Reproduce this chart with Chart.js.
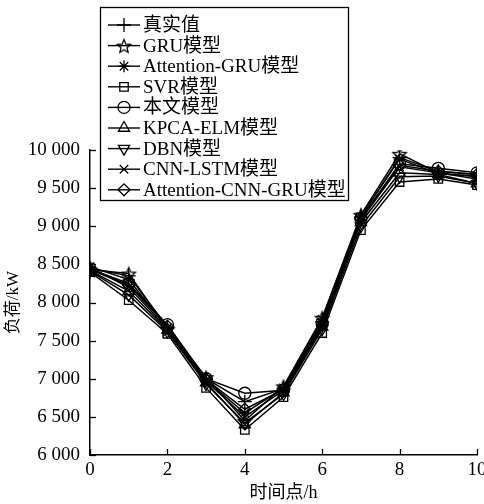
<!DOCTYPE html>
<html><head><meta charset="utf-8">
<script src="https://cdn.jsdelivr.net/npm/chart.js@4/dist/chart.umd.min.js"></script>
<style>html,body{margin:0;padding:0;background:#fff;overflow:hidden}#wrap{width:484px;height:504px;overflow:hidden;position:relative}canvas{display:block}</style>
</head><body><div id="wrap"><canvas id="c" width="500" height="504"></canvas></div>
<script>
const hours = [0,1,2,3,4,5,6,7,8,9,10];
const seriesNames = ['真实值','GRU模型','Attention-GRU模型','SVR模型','本文模型','KPCA-ELM模型','DBN模型','CNN-LSTM模型','Attention-CNN-GRU模型'];
const realValues     = [8450,8350,7680,7000,6700,6870,7750,9120,9900,9720,9680];
const gruValues      = [8430,8380,7650,7020,6450,6900,7800,9150,9950,9700,9650];
const attGruValues   = [8470,8300,7670,6980,6550,6880,7780,9130,9880,9690,9660];
const svrValues      = [8400,8030,7590,6880,6330,6760,7600,8950,9580,9620,9540];
const oursValues     = [8440,8250,7710,7000,6810,6850,7730,9100,9820,9760,9700];
const kpcaElmValues  = [8420,8150,7640,6950,6400,6820,7680,9050,9700,9680,9560];
const dbnValues      = [8410,8100,7620,6930,6420,6800,7650,9000,9650,9660,9560];
const cnnLstmValues  = [8460,8200,7660,6970,6500,6850,7700,9080,9780,9700,9620];
const attCnnGruValues= [8430,8230,7690,6990,6600,6860,7720,9100,9800,9720,9680];
const yTicks = [6000,6500,7000,7500,8000,8500,9000,9500,10000];
const xTicks = [0,2,4,6,8,10];

const FONT = '"Liberation Serif","Times New Roman","Noto Sans CJK SC",serif';

function makeStar(r){
  const c=document.createElement('canvas'); const s=Math.ceil(r*2+4); c.width=s;c.height=s;
  const g=c.getContext('2d'); g.strokeStyle='#000'; g.lineWidth=1.3; g.beginPath();
  for(let i=0;i<10;i++){const a=-Math.PI/2+i*Math.PI/5; const rr=i%2?r*0.45:r;
    const x=s/2+rr*Math.cos(a), y=s/2+1+rr*Math.sin(a); i?g.lineTo(x,y):g.moveTo(x,y);}
  g.closePath(); g.stroke(); return c;
}
const starImg = makeStar(7);

const styles = [
  {pointStyle:'cross', rotation:0, radius:7},
  {pointStyle:starImg, rotation:0, radius:7},
  {pointStyle:'star', rotation:0, radius:6},
  {pointStyle:'rect', rotation:0, radius:6},
  {pointStyle:'circle', rotation:0, radius:6},
  {pointStyle:'triangle', rotation:0, radius:6.5},
  {pointStyle:'triangle', rotation:180, radius:6.5},
  {pointStyle:'crossRot', rotation:0, radius:6},
  {pointStyle:'rectRot', rotation:0, radius:6}
];
const allValues = [realValues,gruValues,attGruValues,svrValues,oursValues,kpcaElmValues,dbnValues,cnnLstmValues,attCnnGruValues];

const datasets = allValues.map((vals,i)=>({
  label: seriesNames[i],
  data: hours.map((h,j)=>({x:h,y:vals[j]})),
  borderColor:'#000', backgroundColor:'rgba(255,255,255,0)', borderWidth:1.5,
  pointStyle: styles[i].pointStyle, rotation: styles[i].rotation,
  pointRadius: styles[i].radius, pointBorderColor:'#000', pointBorderWidth:1.3,
  pointBackgroundColor:'rgba(255,255,255,0)', tension:0, fill:false
}));

const tickPlugin = {
  id:'ticks',
  afterDraw(chart){
    const ctx=chart.ctx, xs=chart.scales.x, ys=chart.scales.y, a=chart.chartArea;
    ctx.save(); ctx.strokeStyle='#000'; ctx.lineWidth=1.3;
    yTicks.forEach(v=>{const y=Math.round(ys.getPixelForValue(v))+0.5; ctx.beginPath(); ctx.moveTo(a.left,y); ctx.lineTo(a.left+6,y); ctx.stroke();});
    xTicks.forEach(v=>{const x=Math.round(xs.getPixelForValue(v))+0.5; ctx.beginPath(); ctx.moveTo(x,a.bottom); ctx.lineTo(x,a.bottom-6); ctx.stroke();});
    const L=100,T=7,R=348,B=200;
    ctx.fillStyle='#fff'; ctx.fillRect(L,T,R-L,B-T);
    ctx.lineWidth=1.3; ctx.strokeRect(L+0.5,T+0.5,R-L,B-T);
    ctx.font='19px '+FONT; ctx.textBaseline='middle'; ctx.textAlign='left';
    seriesNames.forEach((n,i)=>{
      const y=25+i*20.6;
      ctx.strokeStyle='#000'; ctx.lineWidth=1.4;
      ctx.beginPath(); ctx.moveTo(108,y); ctx.lineTo(140,y); ctx.stroke();
      ctx.lineWidth=1.3; ctx.fillStyle='rgba(0,0,0,0)';
      Chart.helpers.drawPoint(ctx,{pointStyle:styles[i].pointStyle,rotation:styles[i].rotation,radius:styles[i].radius,borderWidth:1.3},124,y);
      ctx.fillStyle='#000'; ctx.fillText(n,143,y+1);
    });
    ctx.restore();
  }
};

new Chart(document.getElementById('c'),{
  type:'line',
  data:{datasets},
  options:{
    responsive:false, animation:false,
    layout:{padding:{top:150,right:23,left:0,bottom:0}},
    plugins:{legend:{display:false},tooltip:{enabled:false}},
    scales:{
      x:{type:'linear',min:0,max:10,
        afterFit(s){s.height=49;},
        grid:{display:true,drawOnChartArea:false,drawTicks:false},
        border:{display:true,color:'#000',width:1.5},
        ticks:{stepSize:2,padding:4,color:'#000',font:{family:FONT,size:19},maxRotation:0},
        title:{display:true,text:'时间点/h',color:'#000',font:{family:FONT,size:18},padding:{top:0,bottom:0}}
      },
      y:{type:'linear',min:6000,max:10000,
        afterFit(s){s.width=90;},
        grid:{display:true,drawOnChartArea:false,drawTicks:false},
        border:{display:true,color:'#000',width:1.5},
        ticks:{stepSize:500,padding:10,color:'#000',font:{family:FONT,size:19},
          callback:v=>{const k=Math.floor(v/1000), r=v%1000; return k+' '+String(r).padStart(3,'0');}},
        title:{display:true,text:'负荷/kW',color:'#000',font:{family:FONT,size:17},padding:{top:3,bottom:0}}
      }
    }
  },
  plugins:[tickPlugin]
});
</script></body></html>
